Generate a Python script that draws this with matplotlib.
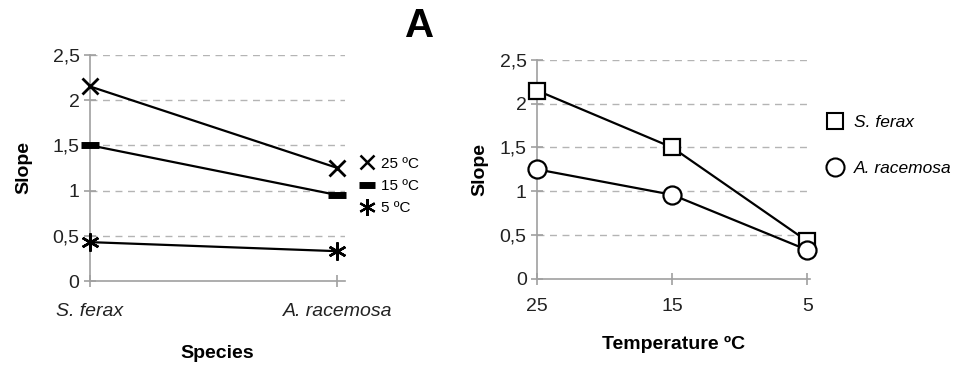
import matplotlib.pyplot as plt
from matplotlib.lines import Line2D

plt.rcParams['font.family'] = ['Liberation Sans', 'DejaVu Sans']

species = ['S. ferax', 'A. racemosa']
temps = ['25', '15', '5']
temp_labels = ['25 ºC', '15 ºC', '5 ºC']

# slope per temperature, across species (left panel)
slope_25 = [2.15, 1.25]
slope_15 = [1.50, 0.95]
slope_5 = [0.43, 0.33]

# slope per species, across temperature (right panel)
slope_ferax = [2.15, 1.50, 0.43]
slope_racemosa = [1.25, 0.96, 0.33]

grey = '#a0a0a0'
fig = plt.figure(figsize=(9.54, 3.65), dpi=100)

def style(ax):
    ax.set_ylim(0, 2.5)
    ax.set_yticks([0, 0.5, 1, 1.5, 2, 2.5])
    ax.set_yticklabels(['0', '0,5', '1', '1,5', '2', '2,5'])
    for v in [0.5, 1, 1.5, 2, 2.5]:
        ax.axhline(v, color='#b4b4b4', lw=1, ls=(0, (5, 4)), zorder=0)
    for s in ['top', 'right']:
        ax.spines[s].set_visible(False)
    for s in ['left', 'bottom']:
        ax.spines[s].set_color(grey)
        ax.spines[s].set_linewidth(1.2)
    ax.tick_params(axis='both', colors=grey, direction='inout', length=8, width=1.2,
                   labelcolor='#222222', labelsize=14)
    ax.set_ylabel('Slope', fontsize=14, fontweight='bold')

# left panel
ax1 = fig.add_axes([0.0943, 0.230, 0.267, 0.62])
x = range(len(species))
ax1.plot(x, slope_25, color='black', lw=1.6, marker='x', ms=12, mew=2, zorder=3, clip_on=False)
ax1.plot(x, slope_15, color='black', lw=1.6, marker='_', ms=13, mew=5, zorder=3, clip_on=False)
ax1.plot(x, slope_5, color='black', lw=1.6, marker=(6, 2, 0), ms=13, mew=1.8, zorder=3, clip_on=False)
style(ax1)
ax1.set_xlim(0, 1.03)
ax1.set_xticks([0, 1])
ax1.set_xticklabels(species, style='italic')
ax1.tick_params(axis='x', pad=12)
ax1.set_xlabel('Species', fontsize=14, fontweight='bold', labelpad=18)
ax1.yaxis.set_label_coords(-0.225, 0.5)
h1 = [Line2D([], [], color='black', ls='None', marker='x', ms=10, mew=1.8),
      Line2D([], [], color='black', ls='None', marker='_', ms=12, mew=5),
      Line2D([], [], color='black', ls='None', marker=(6, 2, 0), ms=12, mew=1.6)]
ax1.legend(h1, temp_labels, loc='center left', bbox_to_anchor=(1.035, 0.42), frameon=False,
           fontsize=11, handlelength=1.0, handletextpad=0.4, labelspacing=0.55,
           borderaxespad=0)

# right panel
ax2 = fig.add_axes([0.563, 0.236, 0.286, 0.600])
xr = range(len(temps))
ax2.plot(xr, slope_ferax, color='black', lw=1.6, marker='s', ms=12, mfc='white', mec='black',
         mew=1.6, zorder=3, clip_on=False)
ax2.plot(xr, slope_racemosa, color='black', lw=1.6, marker='o', ms=13, mfc='white', mec='black',
         mew=1.6, zorder=4, clip_on=False)
style(ax2)
ax2.set_xlim(0, 2.02)
ax2.set_xticks([0, 1, 2])
ax2.set_xticklabels(temps)
ax2.tick_params(axis='x', pad=10)
ax2.set_xlabel('Temperature ºC', fontsize=14, fontweight='bold', labelpad=15)
ax2.yaxis.set_label_coords(-0.18, 0.5)
h2 = [Line2D([], [], color='black', ls='None', marker='s', ms=12, mfc='white', mew=1.5),
      Line2D([], [], color='black', ls='None', marker='o', ms=13, mfc='white', mew=1.5)]
ax2.legend(h2, species, loc='upper left', bbox_to_anchor=(1.035, 0.78), frameon=False,
           prop={'style': 'italic', 'size': 12.5}, handlelength=1.0,
           handletextpad=0.6, labelspacing=1.75, borderaxespad=0)

fig.text(0.440, 0.93, 'A', fontsize=29, fontweight='bold', ha='center', va='center')

fig.savefig('out.png', dpi=100)
